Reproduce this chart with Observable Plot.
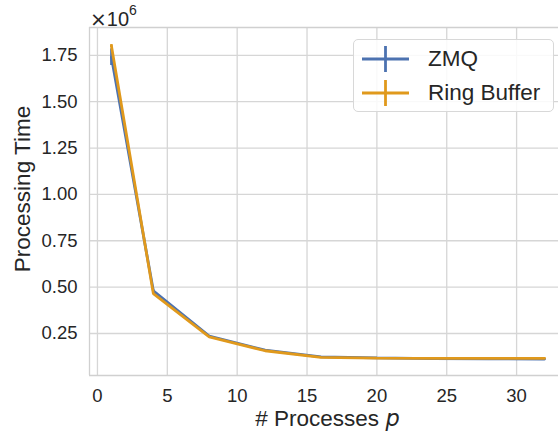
<!DOCTYPE html>
<html>
<head>
<meta charset="utf-8">
<script src="https://cdn.jsdelivr.net/npm/d3@7"></script>
<script src="https://cdn.jsdelivr.net/npm/@observablehq/plot@0.6"></script>
<style>
  body { margin: 0; background: white; font-family: "Liberation Sans", Arial, sans-serif; }
  #wrap { position: relative; width: 558px; height: 435px; overflow: hidden; }
  .lbl { position: absolute; color: #262626; white-space: nowrap; }
  #legend { position: absolute; left: 353px; top: 39px; width: 199px; height: 71px;
    border: 1px solid #d8d8d8; border-radius: 5px; background: rgba(255,255,255,0.85); }
  .row { position: absolute; left: 0; height: 30px; display: flex; align-items: center; }
  .row span { font-size: 22.5px; color: #262626; margin-left: 18px; }
</style>
</head>
<body>
<div id="wrap"></div>
<script>
const procs = [1, 4, 8, 12, 16, 20, 24, 28, 32];
const zmq = [1.74e6, 0.48e6, 0.236e6, 0.16e6, 0.124e6, 0.118e6, 0.115e6, 0.113e6, 0.112e6];
const zmqErr = [0.045e6, 0.004e6, 0.002e6, 0.002e6, 0.001e6, 0.001e6, 0.001e6, 0.001e6, 0.001e6];
const ring = [1.80e6, 0.465e6, 0.232e6, 0.157e6, 0.121e6, 0.117e6, 0.116e6, 0.116e6, 0.116e6];
const ringErr = [0.008e6, 0.003e6, 0.002e6, 0.001e6, 0.001e6, 0.001e6, 0.001e6, 0.001e6, 0.001e6];
const seriesNames = ["ZMQ", "Ring Buffer"];
const colors = ["#4c72b0", "#e0991c"];
const xTicks = [0, 5, 10, 15, 20, 25, 30];
const yTicks = [0.25e6, 0.5e6, 0.75e6, 1.0e6, 1.25e6, 1.5e6, 1.75e6];

const rows = [];
procs.forEach((p, i) => {
  rows.push({s: seriesNames[0], p, v: zmq[i], lo: zmq[i] - zmqErr[i], hi: zmq[i] + zmqErr[i]});
});
procs.forEach((p, i) => {
  rows.push({s: seriesNames[1], p, v: ring[i], lo: ring[i] - ringErr[i], hi: ring[i] + ringErr[i]});
});

const xDom = [-0.57, 33.0];
const yDom = [0.0235e6, 1.9e6];

const chart = Plot.plot({
  width: 558,
  height: 435,
  marginTop: 27,
  marginLeft: 89,
  marginRight: 0,
  marginBottom: 60,
  style: { fontFamily: "Liberation Sans, Arial, sans-serif", fontSize: "18.5px", color: "#262626", background: "white" },
  x: { domain: xDom, label: null },
  y: { domain: yDom, label: null },
  color: { domain: seriesNames, range: colors },
  marks: [
    Plot.gridX(xTicks, { stroke: "#d6d6d6", strokeOpacity: 1, strokeWidth: 1.3 }),
    Plot.gridY(yTicks, { stroke: "#d6d6d6", strokeOpacity: 1, strokeWidth: 1.3 }),
    Plot.ruleX([xDom[0]], { stroke: "#d0d0d0", strokeWidth: 1.3 }),
    Plot.ruleY([yDom[0], yDom[1]], { stroke: "#d0d0d0", strokeWidth: 1.3 }),
    Plot.axisX({ ticks: xTicks, tickSize: 0, tickPadding: 13, tickFormat: d => String(d), fontSize: 18.5, label: null }),
    Plot.axisY({ ticks: yTicks, tickSize: 0, tickPadding: 12, tickFormat: d => (d / 1e6).toFixed(2), fontSize: 18.5, label: null }),
    Plot.ruleX(rows, { x: "p", y1: "lo", y2: "hi", stroke: "s", strokeWidth: 2.6 }),
    Plot.line(rows, { x: "p", y: "v", z: "s", stroke: "s", strokeWidth: 2.8, strokeLinejoin: "miter" })
  ]
});

const wrap = document.getElementById("wrap");
wrap.appendChild(chart);

function addLabel(html, css) {
  const d = document.createElement("div");
  d.className = "lbl";
  d.innerHTML = html;
  Object.assign(d.style, css);
  wrap.appendChild(d);
  return d;
}

addLabel('<span style="font-family:DejaVu Sans">×</span>10<sup style="font-size:14px;position:relative;top:-3px">6</sup>', { left: "90px", top: "1px", fontSize: "20px", lineHeight: "24px" });
addLabel('# Processes <i style="font-family:DejaVu Sans">p</i>', { left: "0px", top: "405px", fontSize: "22.5px", lineHeight: "26px", width: "655px", textAlign: "center" });
const yl = addLabel('Processing Time', { fontSize: "22.5px" });
yl.style.left = "23px"; yl.style.top = "189px";
yl.style.transform = "translate(-50%,-50%) rotate(-90deg)";

const leg = document.createElement("div");
leg.id = "legend";
seriesNames.forEach((n, i) => {
  const r = document.createElement("div");
  r.className = "row";
  r.style.top = (4 + i * 34) + "px";
  r.style.left = "7px";
  r.innerHTML = `<svg width="49" height="28"><line x1="1" x2="48" y1="14" y2="14" stroke="${colors[i]}" stroke-width="2.8"/><line x1="24.5" x2="24.5" y1="1" y2="27" stroke="${colors[i]}" stroke-width="2.8"/></svg><span>${n}</span>`;
  leg.appendChild(r);
});
wrap.appendChild(leg);
</script>
</body>
</html>
